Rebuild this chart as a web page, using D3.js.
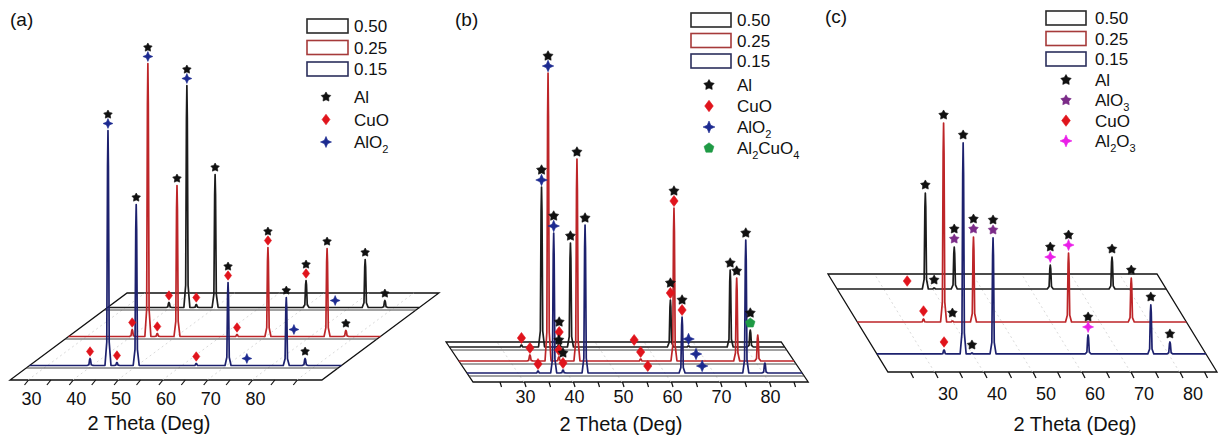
<!DOCTYPE html>
<html>
<head>
<meta charset="utf-8">
<script src="https://cdn.jsdelivr.net/npm/d3@7"></script>
<style>
  body { margin: 0; background: #fff; }
  svg { display: block; font-family: "Liberation Sans", Arial, sans-serif; }
</style>
</head>
<body>
<svg id="chart" width="1220" height="439"></svg>
<script>
// ---- data -------------------------------------------------------------
// series = Al/CuO ratio, drawn back (0.50) to front (0.15)
const seriesNames = ['0.50', '0.25', '0.15'];
const seriesColors = ['#1c1c1c', '#bd2528', '#1d216e'];
const boxColors = ['#2a2a2a', '#a63a3a', '#2b2f5c'];

// peaks: [2 theta (deg), intensity (a.u.)]
const aPeaks050 = [[39.7, 5], [43.7, 222], [45.8, 3], [50.0, 133], [70.3, 27], [83.5, 48], [87.9, 7]];
const aPeaks025 = [[40.2, 7], [43.7, 273], [45.8, 3], [50.2, 151], [63.6, 2], [70.5, 89], [83.7, 88], [87.9, 6]];
const aPeaks015 = [[39.5, 7], [43.5, 235], [45.5, 3], [49.8, 161], [63.2, 2], [70.3, 83], [83.3, 68], [87.5, 7]];

const bPeaks050 = [[34.3, 2], [38.4, 160], [42.0, 8], [44.3, 104], [64.7, 47], [68.4, 1], [76.9, 77], [81.0, 17]];
const bPeaks025 = [[34.1, 6], [37.8, 288], [40.0, 4], [43.7, 202], [56.7, 2], [63.5, 153], [76.3, 83], [80.6, 26]];
const bPeaks015 = [[34.1, 2], [37.3, 140], [39.2, 3], [43.7, 148], [63.5, 56], [76.5, 133], [80.4, 10]];

const cPeaks050 = [[38.5, 96], [40.3, 1], [44.4, 42], [64.0, 24], [76.6, 32]];
const cPeaks025 = [[34.0, 3], [38.1, 199], [39.9, 1], [44.2, 85], [63.6, 69], [76.4, 44]];
const cPeaks015 = [[34.2, 4], [38.1, 211], [39.9, 1], [44.2, 116], [63.6, 19], [76.4, 49], [80.3, 12]];

// phase marks: [2 theta, [phases, top first]]
const aMarks050 = [[39.7, ['CuO']], [43.7, ['Al', 'AlO2']], [45.8, ['CuO']], [50.0, ['Al']], [70.3, ['Al', 'CuO']], [76.8, ['AlO2']], [83.5, ['Al']], [87.9, ['Al']]];
const aMarks025 = [[40.2, ['CuO']], [43.7, ['Al', 'AlO2']], [45.8, ['CuO']], [50.2, ['Al']], [63.6, ['CuO']], [70.5, ['Al', 'CuO']], [76.3, ['AlO2']], [83.7, ['Al']], [87.9, ['Al']]];
const aMarks015 = [[39.5, ['CuO']], [43.5, ['Al', 'AlO2']], [45.5, ['CuO']], [49.8, ['Al']], [63.2, ['CuO']], [70.3, ['Al', 'CuO']], [74.5, ['AlO2']], [83.3, ['Al']], [87.5, ['Al']]];

const bMarks050 = [[34.3, ['CuO']], [38.4, ['Al', 'AlO2']], [42.0, ['Al', 'CuO']], [44.3, ['Al']], [57.3, ['CuO']], [64.7, ['Al', 'CuO']], [68.4, ['AlO2']], [76.9, ['Al']], [81.0, ['Al', 'Al2CuO4']]];
const bMarks025 = [[34.1, ['CuO']], [37.8, ['Al', 'AlO2']], [40.0, ['Al', 'CuO']], [43.7, ['Al']], [56.7, ['CuO']], [63.5, ['Al', 'CuO']], [68.0, ['AlO2']], [76.3, ['Al']]];
const bMarks015 = [[34.1, ['CuO']], [37.3, ['Al', 'AlO2']], [39.2, ['Al', 'CuO']], [43.7, ['Al']], [56.5, ['CuO']], [63.5, ['Al', 'CuO']], [67.6, ['AlO2']], [76.5, ['Al']]];

const cMarks050 = [[34.8, ['CuO']], [38.5, ['Al']], [40.3, ['Al']], [44.4, ['Al', 'AlO3']], [64.0, ['Al', 'Al2O3']], [76.6, ['Al']]];
const cMarks025 = [[34.0, ['CuO']], [38.1, ['Al']], [39.9, ['Al']], [44.2, ['Al', 'AlO3']], [63.6, ['Al', 'Al2O3']], [76.4, ['Al']]];
const cMarks015 = [[34.2, ['CuO']], [38.1, ['Al']], [39.9, ['Al']], [44.2, ['Al', 'AlO3']], [63.6, ['Al', 'Al2O3']], [76.4, ['Al']], [80.3, ['Al']]];

const aLegendPhases = ['Al', 'CuO', 'AlO2'];
const bLegendPhases = ['Al', 'CuO', 'AlO2', 'Al2CuO4'];
const cLegendPhases = ['Al', 'AlO3', 'CuO', 'Al2O3'];

const axisLabels = [30, 40, 50, 60, 70, 80];
const axisTitle = '2 Theta (Deg)';

// ---- symbols ------------------------------------------------------------
// size passed to d3.symbol is r*r
const symStar = { draw(ctx, size) {
  const r = Math.sqrt(size), ri = r * 0.55;
  for (let i = 0; i < 10; i++) {
    const a = -Math.PI / 2 + i * Math.PI / 5, rr = i % 2 ? ri : r;
    i ? ctx.lineTo(rr * Math.cos(a), rr * Math.sin(a)) : ctx.moveTo(rr * Math.cos(a), rr * Math.sin(a));
  }
  ctx.closePath();
}};
const symDiamond = { draw(ctx, size) {
  const r = Math.sqrt(size);
  ctx.moveTo(0, -r); ctx.lineTo(0.75 * r, 0); ctx.lineTo(0, r); ctx.lineTo(-0.75 * r, 0); ctx.closePath();
}};
const symCross = { draw(ctx, size) {
  const r = Math.sqrt(size), ri = r * 0.42;
  for (let i = 0; i < 8; i++) {
    const a = -Math.PI / 2 + i * Math.PI / 4, rr = i % 2 ? ri : r;
    i ? ctx.lineTo(rr * Math.cos(a), rr * Math.sin(a)) : ctx.moveTo(rr * Math.cos(a), rr * Math.sin(a));
  }
  ctx.closePath();
}};
const symPentagon = { draw(ctx, size) {
  const r = Math.sqrt(size);
  for (let i = 0; i < 5; i++) {
    const a = -Math.PI / 2 + i * 2 * Math.PI / 5;
    i ? ctx.lineTo(r * Math.cos(a), r * Math.sin(a)) : ctx.moveTo(r * Math.cos(a), r * Math.sin(a));
  }
  ctx.closePath();
}};

const phaseStyle = {
  Al:      { type: symStar,     color: '#111111', scale: 1.05 },
  AlO3:    { type: symStar,     color: '#7b2b88', scale: 1.05 },
  CuO:     { type: symDiamond,  color: '#e0141c', scale: 1.1 },
  AlO2:    { type: symCross,    color: '#1c2a90', scale: 1.15 },
  Al2O3:   { type: symCross,    color: '#ea1ee8', scale: 1.15 },
  Al2CuO4: { type: symPentagon, color: '#1f9a45', scale: 1 }
};

function symbolPath(phase, r) {
  const st = phaseStyle[phase];
  const rr = r * st.scale;
  return d3.symbol().type(st.type).size(rr * rr)();
}

// chemical formula with subscript digits
function formulaText(sel, formula, fontSize) {
  const parts = formula.split(/(\d+)/).filter(p => p.length);
  let down = false;
  parts.forEach(p => {
    const isSub = /^\d+$/.test(p);
    const t = sel.append('tspan').text(p);
    if (isSub) { t.attr('dy', 5).attr('font-size', fontSize * 0.65); down = true; }
    else if (down) { t.attr('dy', -5); down = false; }
  });
}

// ---- panels -------------------------------------------------------------
const panels = [
  { label: '(a)', labelPos: [10, 26],
    axisDomain: [30, 80], axisRange: [28, 252], planeDomain: [26, 95.6],
    frontY: 380, depth: [117, -87], seriesDepth: [5 / 6, 0.5, 1 / 6], floorDy: 2.5,
    ticks: d3.range(30, 91, 5), tickDir: [-4, 5], labelDx: 3, labelBaseline: 405,
    titleX: 149, titleBaseline: 430, markGap0: 7, markGap: 9, symR: 4.3,
    peaks: [aPeaks050, aPeaks025, aPeaks015], marks: [aMarks050, aMarks025, aMarks015],
    legend: { phases: aLegendPhases, boxX: 307, boxY0: 19, boxStep: 21.5, boxW: 41, boxH: 14,
              textX: 354, symX: 326, rowY0: 97, rowStep: 22.5, symR: 4.8 } },
  { label: '(b)', labelPos: [455, 26],
    axisDomain: [30, 80], axisRange: [524, 769], planeDomain: [19.6, 88],
    frontY: 382, depth: [-27, -40], seriesDepth: [0.875, 0.525, 0.225], floorDy: 3,
    ticks: d3.range(25, 86, 5), tickDir: [1.5, 5], labelDx: 1, labelBaseline: 403,
    titleX: 621, titleBaseline: 431, markGap0: 7, markGap: 10, symR: 5,
    peaks: [bPeaks050, bPeaks025, bPeaks015], marks: [bMarks050, bMarks025, bMarks015],
    legend: { phases: bLegendPhases, boxX: 691, boxY0: 13, boxStep: 20.5, boxW: 40, boxH: 14,
              textX: 737, symX: 709, rowY0: 85, rowStep: 21, symR: 5.2 } },
  { label: '(c)', labelPos: [825, 23],
    axisDomain: [25, 85], axisRange: [910, 1204], planeDomain: [20.5, 87.65],
    frontY: 372, depth: [-60, -98], seriesDepth: [0.847, 0.51, 0.184], floorDy: 0,
    ticks: d3.range(25, 86, 5), tickDir: [3, 6], labelDx: 13, labelBaseline: 400,
    titleX: 1075, titleBaseline: 431, markGap0: 8, markGap: 10, symR: 4.8,
    peaks: [cPeaks050, cPeaks025, cPeaks015], marks: [cMarks050, cMarks025, cMarks015],
    legend: { phases: cLegendPhases, boxX: 1046, boxY0: 11, boxStep: 20.5, boxW: 40, boxH: 14,
              textX: 1095, symX: 1066, rowY0: 80, rowStep: 20.3, symR: 5.2 } }
];

const svg = d3.select('#chart');
const FS = 17;      // legend text
const TICK_FS = 18; // axis numbers
const TITLE_FS = 20;

function drawPanel(cfg) {
  const g = svg.append('g');
  const x = d3.scaleLinear().domain(cfg.axisDomain).range(cfg.axisRange);
  const y = d3.scaleLinear().domain([0, 300]).range([0, 300]); // intensity -> px height
  const pt = (t, d) => [x(t) + d * cfg.depth[0], cfg.frontY + d * cfg.depth[1]];
  const [t0, t1] = cfg.planeDomain;
  const line = d3.line();

  // floor plane
  g.append('path')
    .attr('d', line([pt(t0, 0), pt(t1, 0), pt(t1, 1), pt(t0, 1)]) + 'Z')
    .attr('fill', '#fff').attr('stroke', '#111').attr('stroke-width', 1.3);

  // faint depth grid
  g.selectAll('.grid').data(cfg.ticks.filter(v => v % 10 === 0 && v > t0 && v < t1))
    .enter().append('path')
    .attr('d', v => line([pt(v, 0), pt(v, 1)]))
    .attr('stroke', '#cfcfcf').attr('stroke-width', 0.8).attr('stroke-dasharray', '2,3').attr('fill', 'none');

  // floor lines under each pattern
  if (cfg.floorDy) {
    cfg.seriesDepth.forEach(d => {
      const dd = d + cfg.floorDy / cfg.depth[1];
      g.append('path').attr('d', line([pt(t0, dd), pt(t1, dd)]))
        .attr('stroke', '#444').attr('stroke-width', 1).attr('fill', 'none');
    });
  }

  // diffraction patterns, back to front
  cfg.peaks.forEach((peaks, i) => {
    const d = cfg.seriesDepth[i];
    const ox = d * cfg.depth[0], yb = cfg.frontY + d * cfg.depth[1];
    const pts = [[x(t0) + ox, yb]];
    peaks.slice().sort((p, q) => p[0] - q[0]).forEach(([t, h]) => {
      const cx = x(t) + ox, hh = y(h);
      pts.push([cx - 3, yb], [cx - 1.2, yb - hh * 0.1], [cx - 0.45, yb - hh * 0.85], [cx, yb - hh],
               [cx + 0.45, yb - hh * 0.85], [cx + 1.2, yb - hh * 0.1], [cx + 3, yb]);
    });
    pts.push([x(t1) + ox, yb]);
    g.append('path').attr('d', line(pts))
      .attr('fill', 'none').attr('stroke', seriesColors[i]).attr('stroke-width', 1.7)
      .attr('stroke-linejoin', 'round');
  });

  // phase marks
  cfg.marks.forEach((marks, i) => {
    const d = cfg.seriesDepth[i];
    const ox = d * cfg.depth[0], yb = cfg.frontY + d * cfg.depth[1];
    marks.forEach(([t, phases]) => {
      const pk = cfg.peaks[i].find(p => Math.abs(p[0] - t) < 0.05);
      const top = yb - (pk ? y(pk[1]) : 0);
      phases.slice().reverse().forEach((ph, k) => {
        g.append('path')
          .attr('d', symbolPath(ph, cfg.symR))
          .attr('transform', `translate(${x(t) + ox},${top - cfg.markGap0 - k * cfg.markGap})`)
          .attr('fill', phaseStyle[ph].color)
          .attr('stroke', phaseStyle[ph].color).attr('stroke-width', 0.6).attr('stroke-linejoin', 'round');
      });
    });
  });

  // 2 theta axis on the front edge
  const pad = cfg.labelBaseline - cfg.frontY - 5 - 0.71 * TICK_FS;
  const ax = g.append('g').attr('transform', `translate(0,${cfg.frontY})`)
    .call(d3.axisBottom(x).tickValues(cfg.ticks).tickSize(5).tickPadding(pad)
      .tickFormat(v => axisLabels.includes(v) ? v : ''));
  ax.select('.domain').remove();
  ax.selectAll('.tick line').attr('x2', cfg.tickDir[0]).attr('y2', cfg.tickDir[1])
    .attr('stroke', '#111').attr('stroke-width', 1.2);
  ax.selectAll('.tick text').attr('dx', cfg.labelDx).attr('font-size', TICK_FS)
    .attr('font-family', '"Liberation Sans", Arial, sans-serif').attr('fill', '#111');
  ax.attr('font-family', null).attr('font-size', null);

  g.append('text').attr('x', cfg.titleX).attr('y', cfg.titleBaseline)
    .attr('text-anchor', 'middle').attr('font-size', TITLE_FS).attr('fill', '#111').text(axisTitle);

  g.append('text').attr('x', cfg.labelPos[0]).attr('y', cfg.labelPos[1])
    .attr('font-size', 19).attr('fill', '#111').text(cfg.label);

  // legend
  const L = cfg.legend;
  seriesNames.forEach((name, i) => {
    const by = L.boxY0 + i * L.boxStep;
    g.append('rect').attr('x', L.boxX).attr('y', by).attr('width', L.boxW).attr('height', L.boxH)
      .attr('fill', 'none').attr('stroke', boxColors[i]).attr('stroke-width', 1.6);
    g.append('text').attr('x', L.textX).attr('y', by + 13).attr('font-size', FS).attr('fill', '#111').text(name);
  });
  L.phases.forEach((ph, i) => {
    const ry = L.rowY0 + i * L.rowStep;
    g.append('path').attr('d', symbolPath(ph, L.symR))
      .attr('transform', `translate(${L.symX},${ry})`).attr('fill', phaseStyle[ph].color)
      .attr('stroke', phaseStyle[ph].color).attr('stroke-width', 0.6).attr('stroke-linejoin', 'round');
    const t = g.append('text').attr('x', L.textX).attr('y', ry + 6).attr('font-size', FS).attr('fill', '#111');
    formulaText(t, ph, FS);
  });
}

panels.forEach(drawPanel);
</script>
</body>
</html>
